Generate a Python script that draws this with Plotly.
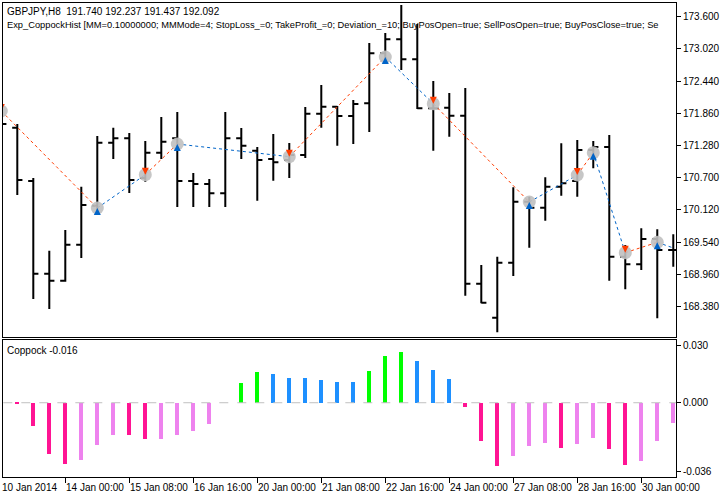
import plotly.graph_objects as go

opens = [171.919,171.600,170.640,168.969,168.843,169.492,170.195,171.330,171.409,170.694,171.150,171.409,170.640,170.586,170.418,171.409,171.186,171.036,171.018,171.108,171.852,171.978,171.811,172.040,172.941,173.193,172.833,171.950,171.960,171.816,168.789,168.177,169.168,170.267,170.159,170.537,170.640,171.198,171.252,169.276,169.139,169.595,169.397]
highs = [172.099,171.667,170.694,169.384,169.757,170.537,171.451,171.600,171.505,171.360,171.793,171.883,170.784,170.676,171.883,171.595,171.252,171.487,171.324,171.973,172.370,171.990,172.099,173.126,173.306,173.811,173.469,172.442,172.225,172.315,169.126,169.276,170.526,170.357,170.706,171.319,171.379,171.360,171.469,169.487,169.788,169.770,169.679]
lows = [171.469,170.387,168.514,168.333,168.825,169.252,170.063,171.036,170.424,170.627,171.036,170.171,170.171,170.171,170.171,171.036,170.285,170.645,170.694,171.054,171.600,171.276,171.306,171.523,172.784,172.640,171.937,171.186,171.438,168.573,168.436,167.914,168.928,169.438,169.924,170.375,170.357,170.869,168.843,168.688,169.036,168.166,169.096]
closes = [171.667,170.658,168.969,168.843,169.492,170.207,171.330,171.409,170.658,171.150,171.348,170.640,170.586,170.418,171.409,171.276,171.018,170.977,171.108,171.852,171.978,171.811,172.027,172.941,173.193,172.833,171.950,171.950,171.816,168.789,168.447,169.168,170.267,170.159,170.537,170.598,171.198,171.252,169.276,169.139,169.595,169.397,169.397]

coppock = [0.009,-0.0007,-0.012,-0.0265,-0.032,-0.030,-0.022,-0.017,-0.017,-0.019,-0.0187,-0.017,-0.0148,-0.0112,0.0,0.0103,0.016,0.015,0.013,0.013,0.0118,0.011,0.011,0.0165,0.0243,0.0263,0.0217,0.017,0.0123,-0.002,-0.020,-0.0328,-0.0277,-0.0225,-0.0208,-0.0234,-0.0213,-0.0182,-0.0239,-0.0322,-0.0302,-0.0198,-0.0104]
hist_state = ["up","dn","dn","dn","dn","dnw","dnw","dnw","dn","dn","dnw","dnw","dnw","dnw","dn","upg","upg","up","up","up","up","up","up","upg","upg","upg","up","up","up","dn","dn","dn","dnw","dnw","dnw","dn","dnw","dnw","dn","dn","dnw","dnw","dnw"]

sig_idx = [0,6,9,11,18,24,27,33,36,37,39,41,42]
sig_price = [171.901,170.153,170.753,171.306,171.078,172.874,172.033,170.261,170.748,171.150,169.348,169.535,169.433]
sig_side = ["sell","buy","sell","buy","sell","buy","sell","buy","sell","buy","sell","buy","none"]

price_ticks = [173.600,173.020,172.440,171.860,171.280,170.700,170.120,169.540,168.960,168.380]
hist_ticks = [0.030,0.000,-0.036]
time_idx = [0,4,8,12,16,20,24,28,32,36,40]
time_labels = ["10 Jan 2014","14 Jan 00:00","15 Jan 08:00","16 Jan 16:00","20 Jan 00:00","21 Jan 08:00",
               "22 Jan 16:00","24 Jan 00:00","27 Jan 08:00","28 Jan 16:00","30 Jan 00:00"]

n = len(opens)
x = list(range(n))
FONT = "Liberation Sans"
RED = "#ff3c00"
BLUE = "#0064c8"
colmap = {"up": "#1e90ff", "upg": "#00ff00", "dn": "#ff1493", "dnw": "#ee82ee"}

fig = go.Figure()
fig.add_trace(go.Ohlc(x=x, open=opens, high=highs, low=lows, close=closes,
                      increasing=dict(line=dict(color="black", width=2)),
                      decreasing=dict(line=dict(color="black", width=2)),
                      tickwidth=0.32, xaxis="x", yaxis="y", showlegend=False, hoverinfo="skip"))

for i in range(len(sig_idx) - 1):
    c = RED if sig_side[i] == "sell" else BLUE
    fig.add_trace(go.Scatter(x=[sig_idx[i], sig_idx[i+1]], y=[sig_price[i], sig_price[i+1]],
                             mode="lines", line=dict(color=c, width=1, dash="dot"),
                             xaxis="x", yaxis="y", showlegend=False))

pts = [i for i, s in enumerate(sig_side) if s != "none"]
fig.add_trace(go.Scatter(x=[sig_idx[i] for i in pts], y=[sig_price[i] for i in pts], mode="markers",
                         marker=dict(size=13, color="rgba(192,192,192,0.9)", line=dict(width=0)),
                         xaxis="x", yaxis="y", showlegend=False))
for side, c, sym in [("sell", RED, "arrow-down"), ("buy", BLUE, "arrow-up")]:
    ii = [i for i in pts if sig_side[i] == side]
    fig.add_trace(go.Scatter(x=[sig_idx[i] for i in ii], y=[sig_price[i] for i in ii], mode="markers",
                             marker=dict(size=7, color=c, symbol=sym, line=dict(width=0)),
                             xaxis="x", yaxis="y", showlegend=False))

fig.add_trace(go.Bar(x=x, y=coppock, marker=dict(color=[colmap[s] for s in hist_state], line=dict(width=0)),
                     width=0.25, xaxis="x2", yaxis="y2", showlegend=False))
fig.add_trace(go.Scatter(x=[-1, n + 1], y=[0, 0], mode="lines", line=dict(color="#c0c0c0", width=1, dash="dash"),
                         xaxis="x2", yaxis="y2", showlegend=False))

xr = [0.106, 42.17]
axcommon = dict(showgrid=False, zeroline=False, showline=True, linecolor="black", linewidth=1, mirror=True,
                automargin=False)
fig.update_layout(
    width=728, height=497, margin=dict(l=3, r=52, t=3, b=20, autoexpand=False),
    paper_bgcolor="white", plot_bgcolor="white",
    font=dict(family=FONT, size=10, color="black"),
    bargap=0,
    xaxis=dict(domain=[0, 1], range=xr, anchor="y", showticklabels=False, ticks="",
               rangeslider=dict(visible=False), **axcommon),
    yaxis=dict(domain=[0.2954, 1], range=[167.829, 173.847], side="right", tickvals=price_ticks,
               ticktext=[f"{v:.3f}" for v in price_ticks], ticks="outside", ticklen=4, tickcolor="black", **axcommon),
    xaxis2=dict(domain=[0, 1], range=xr, anchor="y2", tickvals=time_idx, ticktext=[""] * len(time_idx),
                ticks="outside", ticklen=5, tickcolor="black", **axcommon),
    yaxis2=dict(domain=[0, 0.289], range=[-0.0386, 0.0326], side="right", tickvals=hist_ticks,
                ticktext=["0.030", "0.000", "-0.036"], ticks="outside", ticklen=4, tickcolor="black", **axcommon),
)

for k, (xi, lab) in enumerate(zip(time_idx, time_labels)):
    if k == 0:
        fig.add_annotation(x=0, y=0, xref="paper", yref="paper", text=lab, showarrow=False,
                           xanchor="left", yanchor="top", xshift=-3, yshift=-3, font=dict(size=10))
    else:
        fig.add_annotation(x=xi, y=0, xref="x2", yref="paper", text=lab, showarrow=False,
                           xanchor="left", yanchor="top", xshift=-1, yshift=-3, font=dict(size=10))

fig.add_annotation(x=0.003, y=0.997, xref="paper", yref="paper", xanchor="left", yanchor="top", showarrow=False,
                   text="GBPJPY,H8  191.740 192.237 191.437 192.092", font=dict(size=10))
fig.add_annotation(x=0.003, y=0.968, xref="paper", yref="paper", xanchor="left", yanchor="top", showarrow=False,
                   text="Exp_CoppockHist [MM=0.10000000; MMMode=4; StopLoss_=0; TakeProfit_=0; Deviation_=10; BuyPosOpen=true; SellPosOpen=true; BuyPosClose=true; Se",
                   font=dict(size=9.3))
fig.add_annotation(x=0.003, y=0.283, xref="paper", yref="paper", xanchor="left", yanchor="top", showarrow=False,
                   text="Coppock -0.016", font=dict(size=10))

fig.write_html("out.html", config={"displayModeBar": False},
               post_script="document.body.style.margin='0';document.body.style.overflow='hidden';")
